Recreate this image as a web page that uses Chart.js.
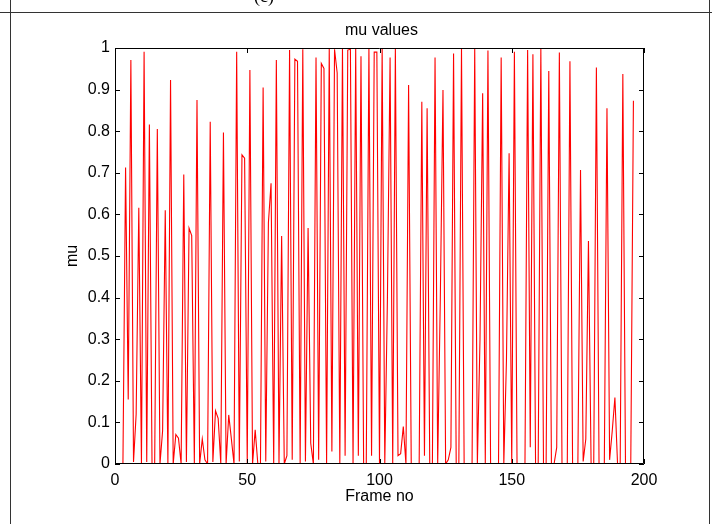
<!DOCTYPE html>
<html>
<head>
<meta charset="utf-8">
<script src="https://cdn.jsdelivr.net/npm/chart.js@4.4.1/dist/chart.umd.min.js"></script>
<style>
  html, body { margin: 0; padding: 0; background: #fff; }
  #wrap { position: relative; width: 712px; height: 524px; }
</style>
</head>
<body>
<div id="wrap"><canvas id="muChart" width="712" height="524"></canvas></div>
<script>
// mu per frame, frame numbers start at 0
var muValues = [
  0, 0, 0, 0, 0.713, 0.155, 0.971, 0.005, 0.12, 0.616,
  0, 0.991, 0.005, 0.816, 0, 0, 0.805, 0, 0.08, 0.61,
  0, 0.923, 0, 0.071, 0.062, 0, 0.696, 0.005, 0.567, 0.549,
  0, 0.875, 0, 0.06, 0.01, 0, 0.823, 0.005, 0.128, 0.11,
  0, 0.797, 0, 0.118, 0.06, 0, 0.991, 0.006, 0.743, 0.735,
  0, 0.947, 0, 0.082, 0, 0, 0.905, 0.006, 0.58, 0.675,
  0, 0.971, 0, 0.548, 0, 0.02, 0.995, 0.01, 0.973, 0.968,
  0, 0.997, 0.006, 0.567, 0.05, 0, 0.977, 0.01, 0.963, 0.951,
  0, 1.0, 0.03, 0.997, 0.94, 0, 1.0, 0.02, 0.995, 0.997,
  0, 1.0, 0.02, 0.98, 0, 0, 1.0, 0.02, 0.99, 0.99,
  0, 1.0, 0, 0.4, 0.977, 0, 1.0, 0.02, 0.025, 0.09,
  0, 0.911, 0, 0, 0, 0, 0.871, 0.02, 0.855, 0,
  0, 0.977, 0, 0.4, 0.899, 0, 0.01, 0.04, 0.987, 0,
  0, 1.0, 0, 0, 0, 0, 1.0, 0, 0.3, 0.891,
  0, 0.994, 0, 0, 0, 0, 0.977, 0, 0.25, 0.747,
  0, 0.991, 0, 0, 0, 0, 0.995, 0.04, 0.985, 0,
  0, 1.0, 0, 0, 0.945, 0, 0, 0.04, 0.989, 0,
  0, 0, 0.968, 0, 0, 0, 0.707, 0.006, 0.06, 0.536,
  0, 0, 0.953, 0, 0, 0, 0.855, 0.01, 0.08, 0.16,
  0, 0, 0.9375, 0, 0, 0, 0.873
];
var frameTicks = [0, 50, 100, 150, 200];
var muTicks = [0, 0.1, 0.2, 0.3, 0.4, 0.5, 0.6, 0.7, 0.8, 0.9, 1];

var FONT = '"Liberation Sans", Arial, Helvetica, sans-serif';

var points = muValues.map(function (v, i) { return { x: i, y: v }; });

// box, inward ticks, titles and the page frame
var decorations = {
  id: 'decorations',
  afterDraw: function (chart) {
    var ctx = chart.ctx;
    var a = chart.chartArea;
    var xs = chart.scales.x, ys = chart.scales.y;
    var tick = 5;
    ctx.save();
    ctx.strokeStyle = '#000';
    ctx.lineWidth = 1;
    ctx.beginPath();
    ctx.rect(a.left + 0.5, a.top + 0.5, a.right - a.left - 1, a.bottom - a.top - 1);
    frameTicks.forEach(function (t) {
      var px = Math.round(xs.getPixelForValue(t)) + 0.5;
      ctx.moveTo(px, a.bottom); ctx.lineTo(px, a.bottom - tick);
      ctx.moveTo(px, a.top); ctx.lineTo(px, a.top + tick);
    });
    muTicks.forEach(function (t) {
      var py = Math.round(ys.getPixelForValue(t)) + 0.5;
      ctx.moveTo(a.left, py); ctx.lineTo(a.left + tick, py);
      ctx.moveTo(a.right, py); ctx.lineTo(a.right - tick, py);
    });
    ctx.stroke();

    ctx.fillStyle = '#000';
    ctx.textAlign = 'center';
    ctx.textBaseline = 'middle';
    ctx.font = '16px ' + FONT;
    ctx.fillText('mu values', (a.left + a.right) / 2 + 2, 31);
    ctx.fillText('Frame no', (a.left + a.right) / 2, 497);
    ctx.save();
    ctx.translate(73, (a.top + a.bottom) / 2);
    ctx.rotate(-Math.PI / 2);
    ctx.fillText('mu', 0, 0);
    ctx.restore();

    // page frame around the figure
    ctx.strokeStyle = '#333';
    ctx.beginPath();
    ctx.moveTo(0, 12.5); ctx.lineTo(712, 12.5);
    ctx.moveTo(10.5, 0); ctx.lineTo(10.5, 524);
    ctx.moveTo(709.5, 0); ctx.lineTo(709.5, 524);
    ctx.stroke();
    ctx.font = '18px "Liberation Serif", "DejaVu Serif", serif';
    ctx.textAlign = 'left';
    ctx.textBaseline = 'alphabetic';
    ctx.fillText('(c)', 254, 2);
    ctx.restore();
  }
};

new Chart(document.getElementById('muChart'), {
  type: 'line',
  data: {
    datasets: [{
      label: 'mu',
      data: points,
      borderColor: '#ff0000',
      borderWidth: 1.1,
      pointRadius: 0,
      tension: 0,
      fill: false
    }]
  },
  options: {
    responsive: false,
    animation: false,
    devicePixelRatio: 1,
    layout: { padding: { left: 0, top: 48, right: 68, bottom: 0 } },
    plugins: { legend: { display: false }, title: { display: false }, tooltip: { enabled: false } },
    scales: {
      x: {
        type: 'linear',
        min: 0, max: 200,
        afterFit: function (s) { s.height = 60; },
        afterBuildTicks: function (s) { s.ticks = frameTicks.map(function (v) { return { value: v }; }); },
        grid: { display: false, drawTicks: false },
        border: { display: false },
        ticks: { color: '#000', padding: 7, maxRotation: 0, font: { family: FONT, size: 16 } }
      },
      y: {
        min: 0, max: 1,
        afterFit: function (s) { s.width = 115; },
        afterBuildTicks: function (s) { s.ticks = muTicks.map(function (v) { return { value: v }; }); },
        grid: { display: false, drawTicks: false },
        border: { display: false },
        ticks: {
          color: '#000', padding: 5, font: { family: FONT, size: 16 },
          callback: function (v) { return String(Math.round(v * 10) / 10); }
        }
      }
    }
  },
  plugins: [decorations]
});
</script>
</body>
</html>
